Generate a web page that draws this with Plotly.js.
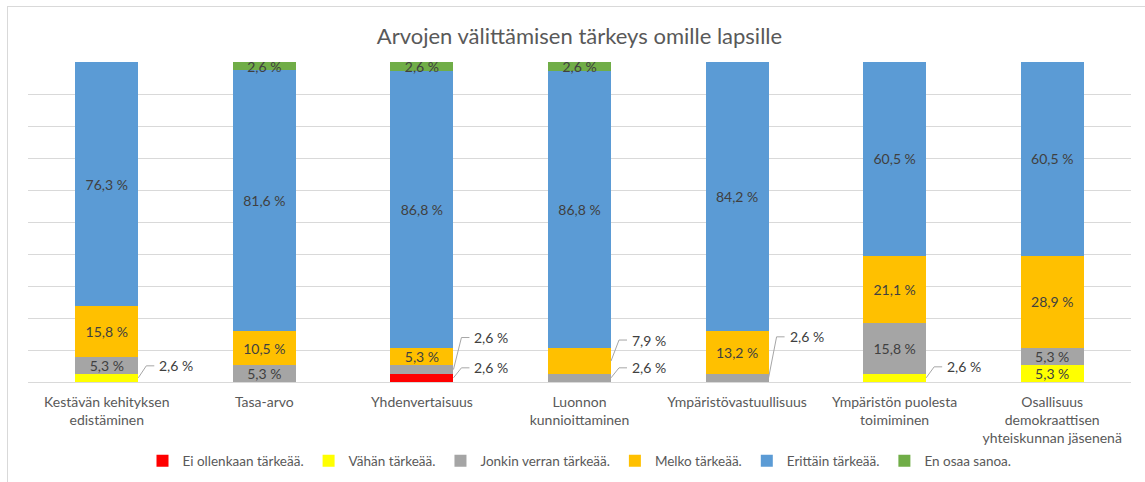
<!DOCTYPE html>
<html>
<head>
<meta charset="utf-8">
<script src="https://cdn.plot.ly/plotly-3.0.1.min.js"></script>
<style>
  html, body { margin: 0; padding: 0; background: #fff; overflow: hidden; }
  #chart { width: 1145px; height: 482px; }
  #frame { position: absolute; left: 7px; top: 6px; width: 1145px; height: 482px;
           border-left: 1.5px solid #d9d9d9; border-top: 1.5px solid #d9d9d9; pointer-events: none; }
</style>
</head>
<body>
<div id="chart"></div>
<div id="frame"></div>
<script>
// ---- data ----
const categories = [
  'Kestävän kehityksen<br>edistäminen',
  'Tasa-arvo',
  'Yhdenvertaisuus',
  'Luonnon<br>kunnioittaminen',
  'Ympäristövastuullisuus',
  'Ympäristön puolesta<br>toimiminen',
  'Osallisuus<br>demokraattisen<br>yhteiskunnan jäsenenä'
];
const seriesNames = ['Ei ollenkaan tärkeää.', 'Vähän tärkeää.', 'Jonkin verran tärkeää.', 'Melko tärkeää.', 'Erittäin tärkeää.', 'En osaa sanoa.'];
const eiOllenkaan = [0, 0, 2.6, 0, 0, 0, 0];
const vahan       = [2.6, 0, 0, 0, 0, 2.6, 5.3];
const jonkin      = [5.3, 5.3, 2.6, 2.6, 2.6, 15.8, 5.3];
const melko       = [15.8, 10.5, 5.3, 7.9, 13.2, 21.1, 28.9];
const erittain    = [76.3, 81.6, 86.8, 86.8, 84.2, 60.5, 60.5];
const enOsaa      = [0, 2.6, 2.6, 2.6, 0, 0, 0];
const seriesValues = [eiOllenkaan, vahan, jonkin, melko, erittain, enOsaa];

// ---- style ----
const colors = ['#FF0000', '#FFFF00', '#A5A5A5', '#FFC000', '#5B9BD5', '#70AD47'];
const barWidth = 0.4;
// labels drawn outside with a leader line: [series index, category index, rise in px]
const callouts = [
  [1, 0, 12],
  [2, 2, 32],
  [0, 2, 10],
  [3, 3, 21],
  [2, 3, 10],
  [2, 4, 41],
  [1, 5, 11]
];
const FONT = 'Lato, "Open Sans", sans-serif';
const fmt = v => v.toFixed(1).replace('.', ',') + ' %';
const isCallout = (s, c) => callouts.some(k => k[0] === s && k[1] === c);

const xs = categories.map((_, i) => i);
const traces = seriesValues.map((vals, s) => ({
  type: 'bar',
  name: seriesNames[s],
  x: xs,
  y: vals,
  width: barWidth,
  marker: { color: colors[s], line: { width: 0 } },
  text: vals.map((v, c) => (v > 0 && !isCallout(s, c)) ? fmt(v) : ''),
  textposition: 'inside',
  insidetextanchor: 'middle',
  constraintext: 'none',
  textfont: { family: FONT, size: 14, color: '#404040' },
  hoverinfo: 'name+y'
}));

const shapes = [];
const annotations = [];
callouts.forEach(([s, c, rise]) => {
  let below = 0;
  for (let k = 0; k < s; k++) below += seriesValues[k][c];
  const mid = below + seriesValues[s][c] / 2;
  const xEdge = c + barWidth / 2;
  shapes.push({
    type: 'path', xref: 'x', yref: 'y',
    xsizemode: 'pixel', ysizemode: 'pixel',
    xanchor: xEdge, yanchor: mid,
    path: `M0,0 L8,${rise} L16,${rise}`,
    line: { color: '#a6a6a6', width: 1 }
  });
  annotations.push({
    x: xEdge, y: mid, xref: 'x', yref: 'y',
    xshift: 19, yshift: rise,
    xanchor: 'left', yanchor: 'middle',
    showarrow: false,
    text: fmt(seriesValues[s][c]),
    font: { family: FONT, size: 14, color: '#404040' }
  });
});

const layout = {
  width: 1145, height: 482,
  margin: { l: 28, r: 14, t: 62, b: 100, pad: 0, autoexpand: false },
  paper_bgcolor: 'rgba(0,0,0,0)',
  plot_bgcolor: '#fff',
  barmode: 'stack',
  title: { text: 'Arvojen välittämisen tärkeys omille lapsille', x: 0.5, xref: 'paper', y: 0.925, yanchor: 'middle',
           font: { family: FONT, size: 22, color: '#595959' } },
  xaxis: {
    range: [-0.5, categories.length - 0.5],
    tickvals: xs, ticktext: categories,
    showgrid: false, zeroline: false, showline: false, ticks: '',
    ticklabelstandoff: 10, automargin: false,
    tickfont: { family: FONT, size: 14, color: '#595959' },
    fixedrange: true
  },
  yaxis: {
    range: [0, 100], dtick: 10, showticklabels: false,
    showgrid: true, gridcolor: '#d9d9d9', gridwidth: 1,
    zeroline: true, zerolinecolor: '#d9d9d9', zerolinewidth: 1,
    ticks: '', fixedrange: true
  },
  legend: {
    orientation: 'h', x: 0.5, xanchor: 'center', y: -0.247, yanchor: 'middle',
    traceorder: 'normal', itemwidth: 30,
    font: { family: FONT, size: 13.5, color: '#595959' }
  },
  shapes: shapes,
  annotations: annotations
};

Plotly.newPlot('chart', traces, layout, { displayModeBar: false, staticPlot: true });
</script>
</body>
</html>
